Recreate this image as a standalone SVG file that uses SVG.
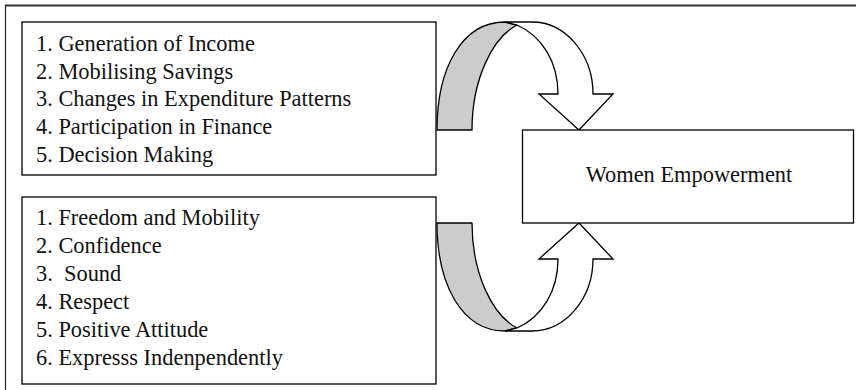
<svg xmlns="http://www.w3.org/2000/svg" width="856" height="390" viewBox="0 0 856 390">
<style>
.box{fill:#fff;stroke:#000;stroke-width:1.3}
.t{font-size:22.4px;fill:#111;white-space:pre}
.back{fill:#cccccc;stroke:#000;stroke-width:1.3;stroke-linejoin:round}
.front{fill:#fff;stroke:#000;stroke-width:1.3;stroke-linejoin:miter}
</style>
<rect width="856" height="390" fill="#fff"/>
<g id="frame">
<line x1="5" y1="5.5" x2="856" y2="5.5" stroke="#333" stroke-width="1.8"/>
<line x1="5.5" y1="5" x2="5.5" y2="390" stroke="#222" stroke-width="1.2"/>
</g>
<g id="connectors">
<g id="arrow-top">
<path class="back" d="M437,130 C437,68 462,22 505,22 L517,25 C492,38 472,80 472,130 Z"/>
<path class="front" d="M505,22 L532,22 C566,22 593,55 593,94 L613,94 L579,130 L539,94 L558,94 C558,62 542,36 517,25 Z"/>
</g>
<g id="arrow-bottom" transform="translate(0,353) scale(1,-1)">
<path class="back" d="M437,130 C437,68 462,22 505,22 L517,25 C492,38 472,80 472,130 Z"/>
<path class="front" d="M505,22 L532,22 C566,22 593,55 593,94 L613,94 L579,130 L539,94 L558,94 C558,62 542,36 517,25 Z"/>
</g>
</g>
<g font-family="'Liberation Serif', 'Times New Roman', Times, 'DejaVu Serif', serif">
<g id="economic">
<rect class="box" x="22" y="22" width="414" height="153"/>
<text class="t" x="36" y="51">1. Generation of Income</text>
<text class="t" x="36" y="78.7">2. Mobilising Savings</text>
<text class="t" x="36" y="106.3">3. Changes in Expenditure Patterns</text>
<text class="t" x="36" y="134">4. Participation in Finance</text>
<text class="t" x="36" y="161.7">5. Decision Making</text>
</g>
<g id="social">
<rect class="box" x="22" y="197" width="414" height="187"/>
<text class="t" x="36" y="225">1. Freedom and Mobility</text>
<text class="t" x="36" y="253">2. Confidence</text>
<text class="t" x="36" y="281">3.  Sound</text>
<text class="t" x="36" y="309">4. Respect</text>
<text class="t" x="36" y="337">5. Positive Attitude</text>
<text class="t" x="36" y="365">6. Expresss Indenpendently</text>
</g>
<g id="women-empowerment">
<rect class="box" x="522.5" y="130" width="331" height="93"/>
<text class="t" x="689" y="182" text-anchor="middle">Women Empowerment</text>
</g>
</g>
</svg>
